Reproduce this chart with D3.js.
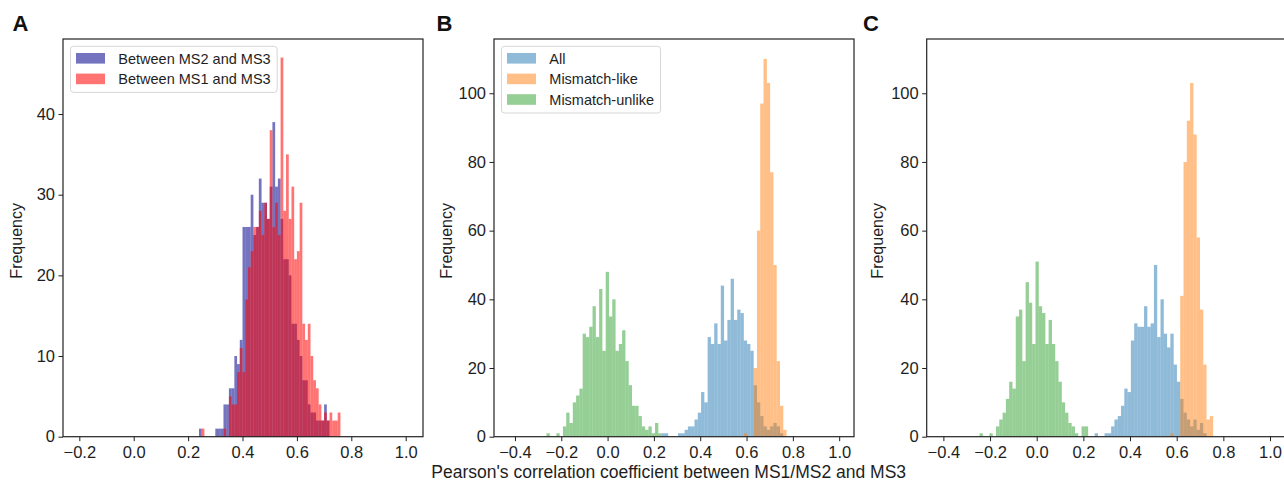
<!DOCTYPE html>
<html><head><meta charset="utf-8">
<script src="https://cdn.jsdelivr.net/npm/d3@7"></script>
<style>body{margin:0;background:#fff}</style></head>
<body>
<svg id="chart" width="1284" height="481"></svg>
<script>
// ---------------- data ----------------
const xTicksA = [-0.2, 0, 0.2, 0.4, 0.6, 0.8, 1.0];
const xTicksBC = [-0.4, -0.2, 0, 0.2, 0.4, 0.6, 0.8, 1.0];
const yTicksA = [0, 10, 20, 30, 40];
const yTicksBC = [0, 20, 40, 60, 80, 100];

// Panel A: bins of width 0.01
const binWidthA = 0.01;
const ms2Start = 0.24;
const ms2Counts = [1,0,0,0,0,0,1,1,1,4,4,6,6,10,9,12,26,26,26,30,25,26,32,29,29,27,31,39,31,32,27,22,22,20,14,14,12,10,7,7,4,3,3,2,2,2,4,2];
const ms1Start = 0.25;
const ms1Counts = [1,0,0,0,0,0,0,0,1,0,5,4,4,8,11,8,17,21,23,26,26,28,25,29,27,38,26,29,25,47,28,35,27,31,22,23,29,14,12,14,10,7,6,4,2,3,2,3,2,2,3];

// Panel B: bins of width 0.0142 starting at -0.42
const binEdgeB = -0.42, binWidthB = 0.0142;
const bAllFirstBin = 46;
const bAll = [1,1,0,0,0,1,1,2,3,3,5,7,13,10,29,27,33,27,44,28,34,46,34,37,36,28,27,25,15,10,6,3,2,3,4,3,1];
const bLikeFirstBin = 71;
const bLike = [1,0,0,20,60,97,110,103,77,50,22,9,2];
const bUnlikeFirstBin = 11;
const bUnlike = [1,0,0,1,0,3,7,4,10,12,14,30,29,32,38,29,43,25,48,35,40,25,27,31,22,15,9,9,6,3,2,3,1,4,1];

// Panel C: bins of width 0.0141 starting at -0.40
const binEdgeC = -0.40, binWidthC = 0.0141;
const cAllFirstBin = 46;
const cAll = [1,0,0,1,1,3,5,6,9,14,13,28,33,32,32,38,32,33,50,29,40,30,26,30,21,16,11,7,5,3,5,2,4,1];
const cLikeFirstBin = 69;
const cLike = [1,0,0,41,80,92,103,88,58,37,21,5,6];
const cUnlikeFirstBin = 11;
const cUnlike = [1,0,0,1,0,3,5,7,11,16,14,35,37,22,45,39,27,51,38,36,27,34,27,22,16,10,7,4,3,1,0,3,3];

const legendA = ["Between MS2 and MS3", "Between MS1 and MS3"];
const legendBC = ["All", "Mismatch-like", "Mismatch-unlike"];
const xTitle = "Pearson's correlation coefficient between MS1/MS2 and MS3";

// ---------------- drawing ----------------
const FONT = "'Liberation Sans', Arial, Helvetica, sans-serif";
const TXT = "#1e1e1e";
const svg = d3.select("#chart").style("font-family", FONT);
const TOP = 39, BOTTOM = 436.7;

const colA = ["#00008b", "#ff0000"];
const colBC = ["#1f77b4", "#ff7f0e", "#2ca02c"];

const panels = [
  { letter: "A", lx: 12.5, left: 63, right: 423, xdom: [-0.26, 1.0636], ymax: 49.3,
    xt: xTicksA, yt: yTicksA, ylabX: 22,
    series: [
      { s: ms2Start, w: binWidthA, c: ms2Counts, col: colA[0], a: 0.55 },
      { s: ms1Start, w: binWidthA, c: ms1Counts, col: colA[1], a: 0.55 }],
    legend: legendA },
  { letter: "B", lx: 436.5, left: 494, right: 854, xdom: [-0.4905, 1.064], ymax: 115.8,
    xt: xTicksBC, yt: yTicksBC, ylabX: 451.5,
    series: [
      { s: binEdgeB + bAllFirstBin * binWidthB, w: binWidthB, c: bAll, col: colBC[0], a: 0.5 },
      { s: binEdgeB + bLikeFirstBin * binWidthB, w: binWidthB, c: bLike, col: colBC[1], a: 0.5 },
      { s: binEdgeB + bUnlikeFirstBin * binWidthB, w: binWidthB, c: bUnlike, col: colBC[2], a: 0.5 }],
    legend: legendBC },
  { letter: "C", lx: 863, left: 926.7, right: 1286.7, xdom: [-0.4715, 1.0715], ymax: 115.8,
    xt: xTicksBC, yt: yTicksBC, ylabX: 883,
    series: [
      { s: binEdgeC + cAllFirstBin * binWidthC, w: binWidthC, c: cAll, col: colBC[0], a: 0.5 },
      { s: binEdgeC + cLikeFirstBin * binWidthC, w: binWidthC, c: cLike, col: colBC[1], a: 0.5 },
      { s: binEdgeC + cUnlikeFirstBin * binWidthC, w: binWidthC, c: cUnlike, col: colBC[2], a: 0.5 }],
    legend: null }
];

const fmt = v => d3.format(".1f")(v).replace("-", "\u2212");

panels.forEach(p => {
  const x = d3.scaleLinear().domain(p.xdom).range([p.left, p.right]);
  const y = d3.scaleLinear().domain([0, p.ymax]).range([BOTTOM, TOP]);
  const g = svg.append("g");

  // bars
  p.series.forEach(se => {
    const bins = se.c.map((v, i) => ({ x0: se.s + i * se.w, x1: se.s + (i + 1) * se.w, v })).filter(d => d.v > 0);
    g.append("g").selectAll("rect").data(bins).join("rect")
      .attr("x", d => x(d.x0)).attr("width", d => x(d.x1) - x(d.x0))
      .attr("y", d => y(d.v)).attr("height", d => y(0) - y(d.v))
      .attr("fill", se.col).attr("fill-opacity", se.a);
  });

  // axes
  const ax = g.append("g").attr("transform", `translate(0,${BOTTOM})`)
    .call(d3.axisBottom(x).tickValues(p.xt).tickFormat(fmt).tickSize(4.5).tickPadding(5.2));
  const ay = g.append("g").attr("transform", `translate(${p.left},0)`)
    .call(d3.axisLeft(y).tickValues(p.yt).tickFormat(d3.format("d")).tickSize(4.5).tickPadding(3.5));
  [ax, ay].forEach(a => {
    a.select(".domain").remove();
    a.selectAll("line").attr("stroke", TXT).attr("stroke-width", 1);
    a.selectAll("text").attr("fill", TXT).style("font-size", "16.5px").style("font-family", FONT);
  });

  // frame
  g.append("rect").attr("x", p.left).attr("y", TOP)
    .attr("width", p.right - p.left).attr("height", BOTTOM - TOP)
    .attr("fill", "none").attr("stroke", "#222").attr("stroke-width", 1.2);

  // y label
  g.append("text").attr("transform", `translate(${p.ylabX},${(TOP + BOTTOM) / 2 + 3}) rotate(-90)`)
    .attr("text-anchor", "middle").attr("fill", TXT).style("font-size", "16px").text("Frequency");

  // panel letter
  svg.append("text").attr("x", p.lx).attr("y", 30.7).attr("fill", "#111")
    .style("font-size", "22px").style("font-weight", "bold").text(p.letter);

  // legend
  if (p.legend) {
    const lg = g.append("g");
    const bx = p.left + 7.5, by = 46.3, rowH = 20.6, fs = 14.5;
    const box = lg.append("rect");
    let maxW = 0;
    p.legend.forEach((name, i) => {
      const cy = 58.3 + i * rowH;
      lg.append("rect").attr("x", p.left + 13).attr("y", cy - 5.3).attr("width", 29).attr("height", 10.6)
        .attr("fill", p.series[i].col).attr("fill-opacity", p.series[i].a);
      const t = lg.append("text").attr("x", p.left + 55.3).attr("y", cy + 5.2)
        .attr("fill", TXT).style("font-size", fs + "px").text(name);
      maxW = Math.max(maxW, t.node().getComputedTextLength());
    });
    const bw = (p.left + 55.3 + maxW + 6.5) - bx;
    const bh = (58.3 + (p.legend.length - 1) * rowH + 13.5) - by;
    box.attr("x", bx).attr("y", by).attr("width", bw).attr("height", bh).attr("rx", 3)
      .attr("fill", "#fff").attr("fill-opacity", 0.8).attr("stroke", "#d6d6d6").attr("stroke-width", 1);
  }
});

// shared x title
svg.append("text").attr("x", 668.7).attr("y", 478.3).attr("text-anchor", "middle")
  .attr("fill", TXT).style("font-size", "17.5px").text(xTitle);
</script>
</body></html>
